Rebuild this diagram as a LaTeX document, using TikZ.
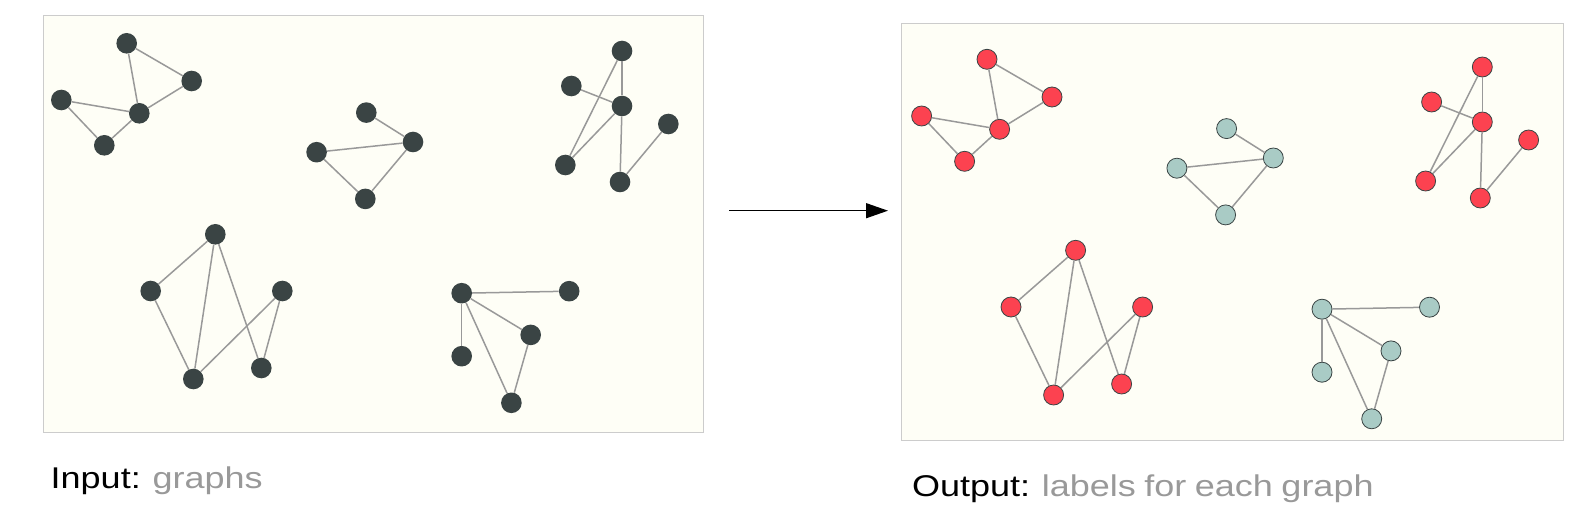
\documentclass[tikz,border=0pt]{standalone}
\usepackage{fontspec}
\setmainfont{Liberation Sans}
\newfontfamily\captionfont[FakeStretch=1.2]{Liberation Sans}
\newcommand{\captionsize}{\captionfont\fontsize{30}{36}\selectfont\spaceskip 8.5pt plus 1pt\relax}
\usetikzlibrary{arrows.meta}

\definecolor{panelbg}{HTML}{FEFEF6}
\definecolor{panelrule}{HTML}{CCCCCC}
\definecolor{edgegray}{HTML}{999999}
\definecolor{nodedark}{HTML}{3A4444}
\definecolor{nodered}{HTML}{FC4250}
\definecolor{nodeteal}{HTML}{A9CBC5}
\definecolor{captiongray}{HTML}{999999}

\tikzset{
  panel/.style={draw=panelrule, line width=1.2pt, fill=panelbg},
  vertex/.style={circle, inner sep=0pt, minimum size=20.6pt, fill=nodedark},
  redvertex/.style={circle, inner sep=0pt, minimum size=20pt, fill=nodered, draw=nodedark, line width=0.8pt},
  tealvertex/.style={circle, inner sep=0pt, minimum size=20pt, fill=nodeteal, draw=nodedark, line width=0.8pt},
  link/.style={draw=edgegray, line width=1.5pt},
  caption/.style={anchor=base west, inner sep=0pt, font=\captionsize}
}

% #1 prefix, #2 style of graphs a c d, #3 style of graphs b e
\newcommand{\graphset}[3]{
  % top left
  \node[#2] (#1a1) at (126.7,43.3) {};
  \node[#2] (#1a2) at (191.7,81) {};
  \node[#2] (#1a3) at (61.3,100) {};
  \node[#2] (#1a4) at (139.3,113.3) {};
  \node[#2] (#1a5) at (104.3,145.3) {};
  % middle
  \node[#3] (#1b1) at (366.3,112.6) {};
  \node[#3] (#1b2) at (413,142) {};
  \node[#3] (#1b3) at (316.6,152.2) {};
  \node[#3] (#1b4) at (365.3,198.9) {};
  % top right
  \node[#2] (#1c1) at (622,51) {};
  \node[#2] (#1c2) at (571.3,86) {};
  \node[#2] (#1c3) at (622,106) {};
  \node[#2] (#1c4) at (668.3,124) {};
  \node[#2] (#1c5) at (565.3,165) {};
  \node[#2] (#1c6) at (620,182) {};
  % bottom left
  \node[#2] (#1d1) at (215.3,234.3) {};
  \node[#2] (#1d2) at (150.7,291) {};
  \node[#2] (#1d3) at (282.3,291) {};
  \node[#2] (#1d4) at (193.3,379) {};
  \node[#2] (#1d5) at (261.3,368) {};
  % bottom right
  \node[#3] (#1e1) at (461.7,293.2) {};
  \node[#3] (#1e2) at (569.2,291.2) {};
  \node[#3] (#1e3) at (530.7,334.9) {};
  \node[#3] (#1e4) at (461.7,356.2) {};
  \node[#3] (#1e5) at (511.4,402.8) {};
  \foreach \u/\v in {a1/a2, a1/a4, a2/a4, a3/a4, a3/a5, a5/a4,
                     b1/b2, b3/b2, b3/b4, b4/b2,
                     c1/c3, c1/c5, c2/c3, c3/c5, c3/c6, c6/c4,
                     d1/d2, d1/d4, d1/d5, d2/d4, d4/d3, d3/d5,
                     e1/e2, e1/e3, e1/e4, e1/e5, e3/e5}
    \draw[link] (#1\u) -- (#1\v);
}

\begin{document}
\begin{tikzpicture}[x=1pt, y=-1pt]
\useasboundingbox (0,0) rectangle (1591,521);

% panels
\draw[panel] (43.5,15.5) rectangle (703.3,432.3);
\draw[panel] (901.3,23.3) rectangle (1563.3,440.3);

% input graphs
\graphset{in}{vertex}{vertex}

% labelled graphs
\begin{scope}[shift={(860.3,16)}]
\graphset{out}{redvertex}{tealvertex}
\end{scope}

% arrow between the panels
\coordinate (arrowstart) at (729.3,210.7);
\coordinate (arrowend) at (888,210.7);
\draw[line width=1.3pt, -{Triangle[length=22pt, width=15pt]}] (arrowstart) -- (arrowend);

% captions
\node[caption] (incap) at (50.5,488.8) {Input: \textcolor{captiongray}{graphs}};
\node[caption] (outcap) at (911.8,496.7) {Output: \textcolor{captiongray}{labels for each graph}};
\end{tikzpicture}
\end{document}
